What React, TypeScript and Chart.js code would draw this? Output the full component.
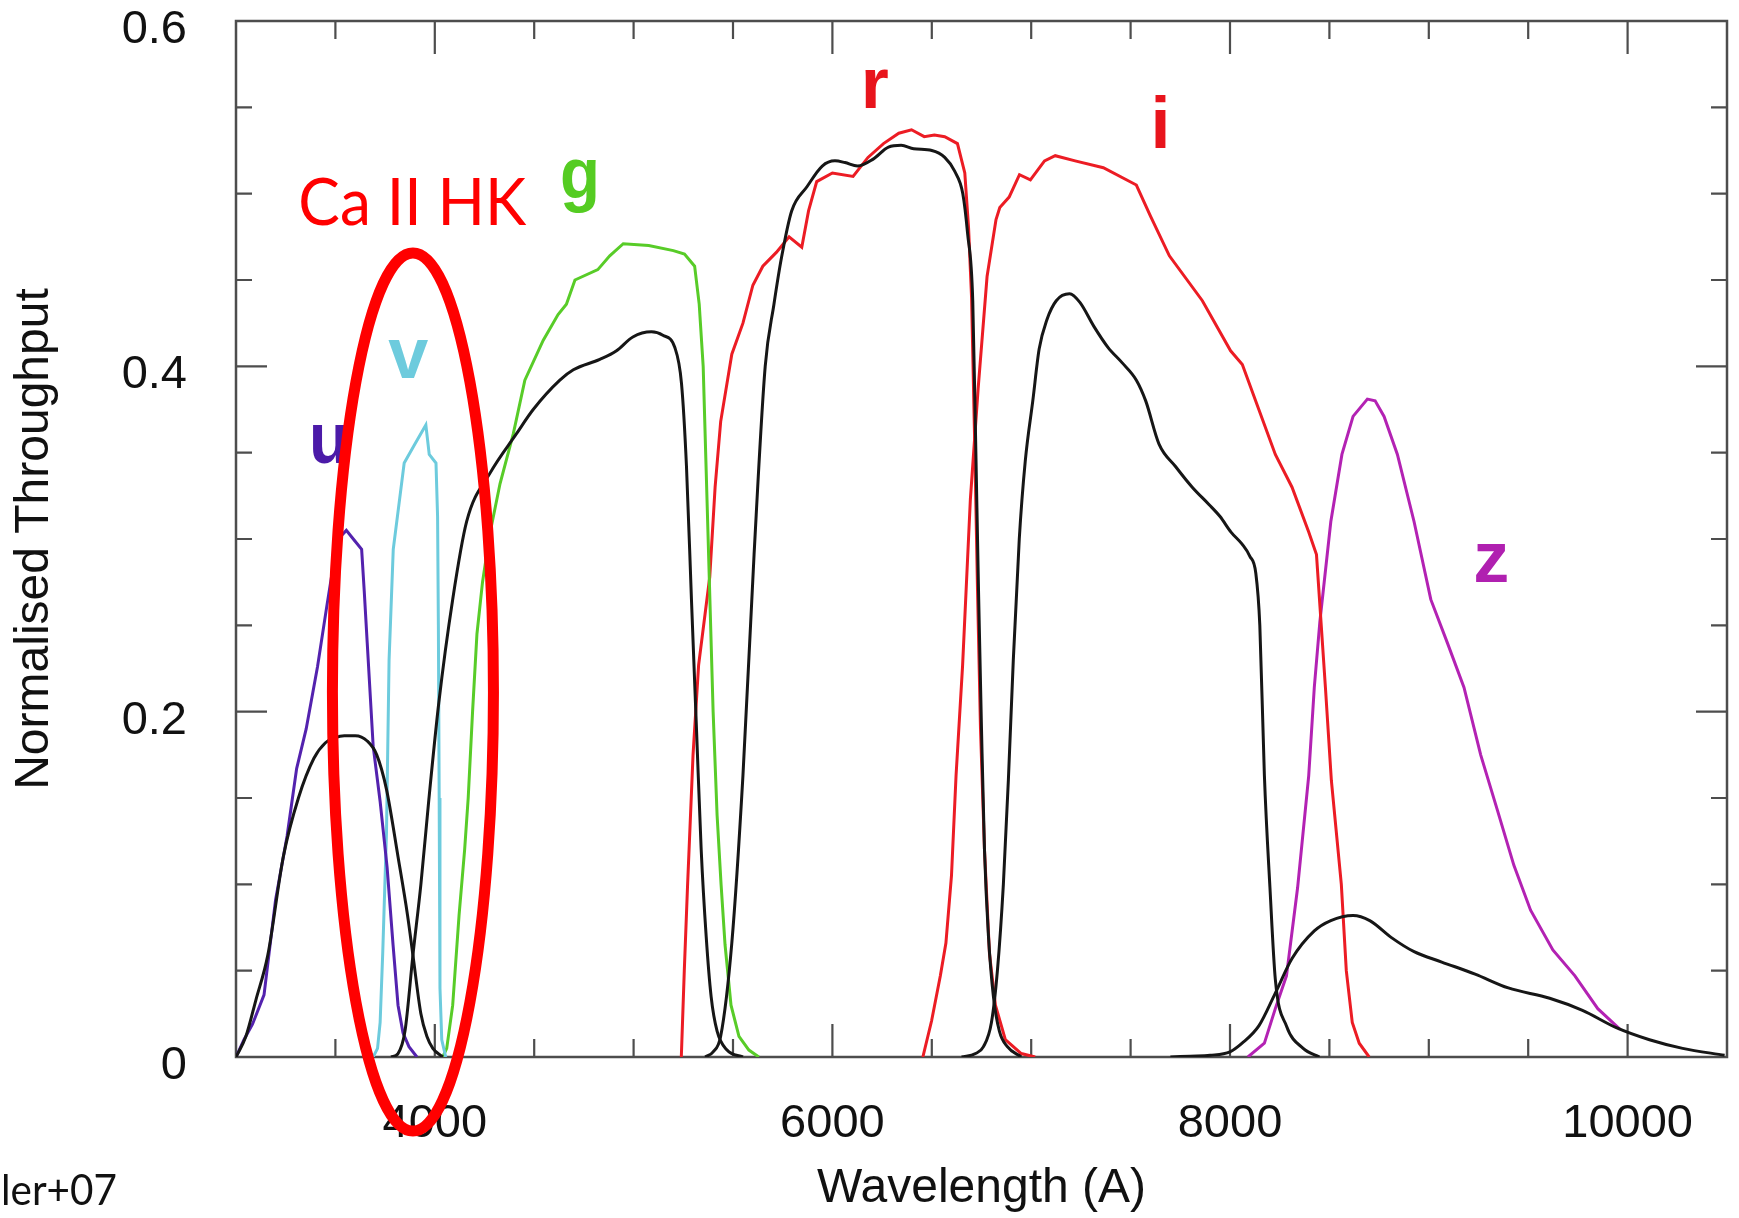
import React, { useEffect, useRef } from 'react';
import { Chart, registerables } from 'chart.js';

Chart.register(...registerables);

// ---------- data (wavelength in Å, normalised throughput) ----------
const uWave = [3000, 3040, 3083, 3141, 3199, 3257, 3305, 3353, 3410, 3458, 3490, 3531, 3555, 3590, 3632, 3645, 3660, 3690, 3725, 3760, 3790, 3815, 3840, 3870, 3910];
const uThru = [0, 0.01, 0.019, 0.036, 0.091, 0.128, 0.167, 0.19, 0.226, 0.262, 0.285, 0.302, 0.305, 0.3, 0.294, 0.27, 0.24, 0.18, 0.148, 0.11, 0.065, 0.03, 0.014, 0.006, 0];

const vWave = [3690, 3712, 3725, 3738, 3757, 3770, 3791, 3846, 3900, 3955, 3972, 4006, 4014, 4018, 4022, 4026, 4035, 4055];
const vThru = [0, 0.005, 0.02, 0.06, 0.13, 0.23, 0.294, 0.344, 0.355, 0.366, 0.349, 0.344, 0.313, 0.25, 0.15, 0.04, 0.01, 0];

const gWave = [4040, 4060, 4090, 4122, 4150, 4168, 4190, 4212, 4240, 4277, 4328, 4395, 4453, 4545, 4620, 4662, 4705, 4820, 4880, 4948, 5076, 5200, 5256, 5307, 5330, 5350, 5365, 5380, 5400, 5420, 5440, 5460, 5490, 5530, 5580, 5630];
const gThru = [0, 0.005, 0.03, 0.082, 0.12, 0.15, 0.2, 0.245, 0.275, 0.303, 0.332, 0.361, 0.392, 0.415, 0.43, 0.436, 0.45, 0.456, 0.464, 0.471, 0.47, 0.467, 0.465, 0.458, 0.436, 0.4, 0.34, 0.28, 0.2, 0.14, 0.1, 0.065, 0.03, 0.012, 0.004, 0];

const rWave = [5240, 5255, 5271, 5299, 5327, 5383, 5410, 5438, 5494, 5550, 5600, 5650, 5718, 5782, 5846, 5880, 5921, 6000, 6104, 6179, 6257, 6334, 6398, 6462, 6513, 6565, 6629, 6666, 6685, 6700, 6715, 6730, 6745, 6765, 6790, 6820, 6870, 6950, 7020];
const rThru = [0, 0.05, 0.098, 0.175, 0.227, 0.278, 0.33, 0.368, 0.407, 0.425, 0.447, 0.458, 0.466, 0.475, 0.469, 0.49, 0.507, 0.512, 0.51, 0.521, 0.529, 0.535, 0.537, 0.533, 0.534, 0.533, 0.529, 0.512, 0.48, 0.44, 0.36, 0.27, 0.19, 0.12, 0.06, 0.03, 0.01, 0.002, 0];

const iWave = [6455, 6499, 6543, 6571, 6599, 6622, 6655, 6694, 6733, 6778, 6823, 6842, 6889, 6941, 6996, 7067, 7121, 7221, 7363, 7529, 7600, 7695, 7861, 8003, 8062, 8145, 8228, 8312, 8396, 8435, 8480, 8510, 8560, 8585, 8615, 8650, 8700];
const iThru = [0, 0.021, 0.047, 0.066, 0.105, 0.163, 0.227, 0.323, 0.387, 0.452, 0.485, 0.492, 0.498, 0.511, 0.508, 0.519, 0.522, 0.519, 0.515, 0.505, 0.487, 0.464, 0.438, 0.409, 0.401, 0.375, 0.349, 0.33, 0.304, 0.291, 0.214, 0.16, 0.1, 0.05, 0.02, 0.008, 0];

const zWave = [8090, 8173, 8228, 8284, 8340, 8396, 8424, 8452, 8507, 8563, 8619, 8691, 8730, 8775, 8842, 8926, 9010, 9093, 9177, 9261, 9345, 9428, 9512, 9624, 9735, 9850, 9962];
const zThru = [0, 0.008, 0.028, 0.047, 0.098, 0.163, 0.214, 0.252, 0.31, 0.349, 0.371, 0.381, 0.38, 0.371, 0.349, 0.31, 0.265, 0.24, 0.214, 0.175, 0.143, 0.111, 0.085, 0.062, 0.047, 0.028, 0.016];

// black (comparison) curves
const kuWave = [3000, 3050, 3100, 3160, 3238, 3314, 3392, 3450, 3500, 3545, 3600, 3660, 3708, 3757, 3815, 3863, 3890, 3930, 3960, 3990, 4040];
const kuThru = [0, 0.012, 0.033, 0.059, 0.116, 0.15, 0.173, 0.182, 0.185, 0.186, 0.186, 0.183, 0.175, 0.155, 0.116, 0.082, 0.059, 0.025, 0.012, 0.005, 0];

const kgWave = [3780, 3815, 3850, 3890, 3930, 3970, 4020, 4090, 4160, 4277, 4411, 4495, 4629, 4697, 4830, 4914, 4996, 5090, 5147, 5207, 5241, 5266, 5291, 5317, 5340, 5365, 5390, 5420, 5470, 5550];
const kgThru = [0, 0.002, 0.015, 0.059, 0.1, 0.149, 0.205, 0.265, 0.31, 0.338, 0.361, 0.375, 0.392, 0.398, 0.404, 0.409, 0.417, 0.42, 0.418, 0.411, 0.39, 0.342, 0.265, 0.188, 0.12, 0.07, 0.035, 0.015, 0.004, 0];

const krWave = [5360, 5400, 5438, 5494, 5550, 5606, 5662, 5706, 5744, 5795, 5872, 5949, 6013, 6063, 6127, 6205, 6282, 6346, 6409, 6500, 6565, 6615, 6656, 6680, 6706, 6720, 6735, 6750, 6765, 6785, 6810, 6840, 6880, 6950];
const krThru = [0, 0.003, 0.012, 0.066, 0.163, 0.291, 0.4, 0.436, 0.463, 0.49, 0.504, 0.516, 0.519, 0.518, 0.516, 0.52, 0.527, 0.528, 0.526, 0.525, 0.521, 0.513, 0.5, 0.477, 0.438, 0.36, 0.27, 0.19, 0.12, 0.07, 0.035, 0.015, 0.006, 0];

const kiWave = [6650, 6720, 6760, 6800, 6830, 6860, 6885, 6910, 6940, 6970, 7008, 7040, 7079, 7126, 7193, 7245, 7316, 7386, 7458, 7529, 7576, 7643, 7726, 7810, 7894, 7950, 8005, 8061, 8100, 8130, 8150, 8173, 8201, 8228, 8284, 8368, 8450];
const kiThru = [0, 0.002, 0.006, 0.02, 0.05, 0.1, 0.16, 0.23, 0.3, 0.345, 0.38, 0.41, 0.427, 0.438, 0.442, 0.437, 0.423, 0.411, 0.402, 0.392, 0.38, 0.355, 0.342, 0.33, 0.32, 0.313, 0.304, 0.297, 0.29, 0.28, 0.25, 0.163, 0.098, 0.045, 0.018, 0.005, 0];

const kzWave = [7700, 7800, 7900, 8000, 8061, 8145, 8228, 8312, 8424, 8507, 8619, 8703, 8814, 8926, 9065, 9233, 9400, 9608, 9773, 9943, 10110, 10277, 10488];
const kzThru = [0, 0.0005, 0.001, 0.003, 0.008, 0.018, 0.037, 0.057, 0.073, 0.079, 0.082, 0.079, 0.069, 0.061, 0.055, 0.048, 0.04, 0.034, 0.027, 0.017, 0.01, 0.005, 0.001];

// tick labels
const xTickLabels = [4000, 6000, 8000, 10000];
const yTickLabels = [0, 0.2, 0.4, 0.6];

// filter name labels (data coordinates of the text anchor)
const filterNames = ['u', 'v', 'g', 'r', 'i', 'z'];
const filterNameWave = [3468, 3867, 4730, 6213, 7651, 9314];
const filterNameThru = [0.344, 0.393, 0.4975, 0.5496, 0.5264, 0.275];

// Ca II HK annotation (data coordinates)
const caText = 'Ca II HK';
const caTextWave = 3887;
const caTextThru = 0.482;
const ellipseWave = 3890;
const ellipseThru = 0.2114;
const ellipseHalfWave = 405;
const ellipseHalfThru = 0.2543;
const creditText = 'ler+07';

// ---------- styles ----------
const COL_U = '#5322AE';
const COL_V = '#6DCBDD';
const COL_G = '#58CC28';
const COL_R = '#EC1C24';
const COL_Z = '#B322B3';
const COL_K = '#161616';
const filterNameColors = ['#4B1AA8', '#6DCBDD', '#55CC22', '#E8141C', '#E8141C', '#B020B0'];

const toPts = (w: number[], t: number[]) => w.map((x, i) => ({ x, y: t[i] }));

const mkSet = (label: string, w: number[], t: number[], color: string, smooth: boolean) => ({
  label,
  data: toPts(w, t),
  borderColor: color,
  backgroundColor: color,
  borderWidth: 3,
  pointRadius: 0,
  fill: false,
  tension: 0,
  cubicInterpolationMode: smooth ? ('monotone' as const) : ('default' as const),
});

const framePlugin = {
  id: 'framePlugin',
  beforeDatasetsDraw(chart: any) {
    const { ctx, chartArea: a, scales } = chart;
    const x = scales.x;
    const y = scales.y;
    ctx.save();
    ctx.strokeStyle = '#4d4d4d';
    ctx.lineWidth = 2.5;
    ctx.strokeRect(a.left, a.top, a.right - a.left, a.bottom - a.top);
    ctx.beginPath();
    for (let w = 3500; w < 10500; w += 500) {
      const px = x.getPixelForValue(w);
      const len = w % 2000 === 0 ? 33 : 18;
      ctx.moveTo(px, a.bottom);
      ctx.lineTo(px, a.bottom - len);
      ctx.moveTo(px, a.top);
      ctx.lineTo(px, a.top + len);
    }
    for (let k = 1; k < 12; k++) {
      const py = y.getPixelForValue(k * 0.05);
      const len = k % 4 === 0 ? 31 : 16;
      ctx.moveTo(a.left, py);
      ctx.lineTo(a.left + len, py);
      ctx.moveTo(a.right, py);
      ctx.lineTo(a.right - len, py);
    }
    ctx.lineWidth = 2.2;
    ctx.stroke();
    ctx.restore();
  },
};

const annotationPlugin = {
  id: 'annotationPlugin',
  afterDraw(chart: any) {
    const { ctx, scales } = chart;
    const x = scales.x;
    const y = scales.y;
    ctx.save();
    // filter names
    ctx.textAlign = 'center';
    ctx.textBaseline = 'alphabetic';
    ctx.font = 'bold 72px "Liberation Sans Narrow", "Liberation Sans", Arial, sans-serif';
    filterNames.forEach((n, i) => {
      ctx.fillStyle = filterNameColors[i];
      ctx.fillText(n, x.getPixelForValue(filterNameWave[i]), y.getPixelForValue(filterNameThru[i]), 40);
    });
    // Ca II HK
    ctx.fillStyle = '#FF0000';
    ctx.font = '66px Lato, "Open Sans", sans-serif';
    ctx.fillText(caText, x.getPixelForValue(caTextWave), y.getPixelForValue(caTextThru), 228);
    // ellipse
    const cx = x.getPixelForValue(ellipseWave);
    const cy = y.getPixelForValue(ellipseThru);
    const rx = x.getPixelForValue(ellipseWave + ellipseHalfWave) - cx;
    const ry = cy - y.getPixelForValue(ellipseThru + ellipseHalfThru);
    ctx.beginPath();
    ctx.ellipse(cx, cy, rx, ry, 0, 0, Math.PI * 2);
    ctx.strokeStyle = '#FF0000';
    ctx.lineWidth = 11;
    ctx.stroke();
    // credit (cut at the left edge)
    ctx.fillStyle = '#111111';
    ctx.textAlign = 'left';
    ctx.font = '42px Lato, "Open Sans", sans-serif';
    ctx.fillText(creditText, 1, chart.height - 13, 116);
    ctx.restore();
  },
};

export default function App() {
  const canvasRef = useRef<HTMLCanvasElement | null>(null);

  useEffect(() => {
    const canvas = canvasRef.current;
    if (!canvas) return;
    const tickFont = { family: '"Liberation Sans", Arial, sans-serif', size: 47 };
    const titleFont = { family: '"Liberation Sans", Arial, sans-serif', size: 48 };
    const chart = new Chart(canvas, {
      type: 'line',
      data: {
        datasets: [
          mkSet('u (black)', kuWave, kuThru, COL_K, true),
          mkSet('g (black)', kgWave, kgThru, COL_K, true),
          mkSet('r (black)', krWave, krThru, COL_K, true),
          mkSet('i (black)', kiWave, kiThru, COL_K, true),
          mkSet('z (black)', kzWave, kzThru, COL_K, true),
          mkSet('u', uWave, uThru, COL_U, false),
          mkSet('v', vWave, vThru, COL_V, false),
          mkSet('g', gWave, gThru, COL_G, false),
          mkSet('r', rWave, rThru, COL_R, false),
          mkSet('i', iWave, iThru, COL_R, false),
          mkSet('z', zWave, zThru, COL_Z, false),
        ],
      },
      options: {
        animation: false,
        responsive: false,
        maintainAspectRatio: false,
        devicePixelRatio: 1,
        layout: { padding: { left: 0, top: 21, right: 12, bottom: 0 } },
        plugins: {
          legend: { display: false },
          tooltip: { enabled: false },
        },
        elements: { point: { radius: 0 } },
        scales: {
          x: {
            type: 'linear',
            min: 3000,
            max: 10500,
            grid: { display: false },
            border: { display: false },
            afterBuildTicks: (s: any) => {
              s.ticks = xTickLabels.map((v) => ({ value: v }));
            },
            afterFit: (s: any) => {
              s.height = 161;
              s.paddingLeft = 0;
              s.paddingRight = 0;
            },
            ticks: {
              autoSkip: false,
              maxRotation: 0,
              padding: 31,
              color: '#111111',
              font: tickFont,
              callback: (v: any) => String(v),
            },
            title: {
              display: true,
              text: 'Wavelength (A)',
              color: '#111111',
              font: titleFont,
              padding: { top: 0, bottom: 0 },
            },
          },
          y: {
            type: 'linear',
            min: 0,
            max: 0.6,
            grid: { display: false },
            border: { display: false },
            afterBuildTicks: (s: any) => {
              s.ticks = yTickLabels.map((v) => ({ value: v }));
            },
            afterFit: (s: any) => {
              s.width = 236;
              s.paddingTop = 0;
              s.paddingBottom = 0;
            },
            ticks: {
              padding: 41,
              labelOffset: 9,
              color: '#111111',
              font: tickFont,
              callback: (v: any) => String(v),
            },
            title: {
              display: true,
              text: 'Normalised Throughput',
              color: '#111111',
              font: titleFont,
              padding: { top: 6, bottom: 0 },
            },
          },
        },
      },
      plugins: [framePlugin, annotationPlugin],
    } as any);
    return () => chart.destroy();
  }, []);

  return (
    <div style={{ position: 'fixed', left: 0, top: 0, width: 1739, height: 1218, background: '#ffffff' }}>
      <canvas ref={canvasRef} width={1739} height={1218} style={{ width: 1739, height: 1218, display: 'block' }} />
    </div>
  );
}
